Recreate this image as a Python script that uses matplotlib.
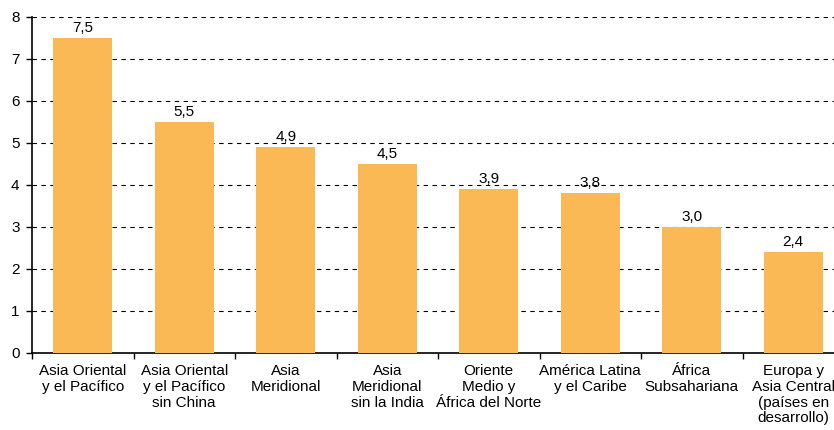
import matplotlib.pyplot as plt
import numpy as np

plt.rcParams["font.family"] = ["Liberation Sans", "DejaVu Sans"]

categories = [
    "Asia Oriental\ny el Pacífico",
    "Asia Oriental\ny el Pacífico\nsin China",
    "Asia\nMeridional",
    "Asia\nMeridional\nsin la India",
    "Oriente\nMedio y\nÁfrica del Norte",
    "América Latina\ny el Caribe",
    "África\nSubsahariana",
    "Europa y\nAsia Central\n(países en\ndesarrollo)",
]
values = [7.5, 5.5, 4.9, 4.5, 3.9, 3.8, 3.0, 2.4]
value_labels = ["7,5", "5,5", "4,9", "4,5", "3,9", "3,8", "3,0", "2,4"]
yticks = [0, 1, 2, 3, 4, 5, 6, 7, 8]

fig = plt.figure(figsize=(8.34, 4.30), dpi=100)
ax = fig.add_axes([32 / 834, 1 - 353 / 430, 812 / 834, 336 / 430])

x = np.arange(len(values))
ax.bar(x, values, width=0.58, color="#fbb955", zorder=3)
for xi, v, lab in zip(x, values, value_labels):
    ax.annotate(lab, (xi, v), xytext=(0, 2.5), textcoords="offset points",
                ha="center", va="bottom", fontsize=11, zorder=4)

ax.set_xlim(-0.5, len(values) - 0.5)
ax.set_ylim(0, 8)
ax.set_yticks(yticks)
ax.set_yticklabels([str(t) for t in yticks], fontsize=11)
for t in yticks[1:]:
    ax.axhline(t, color="black", linestyle=(0, (4, 4)), linewidth=0.8, zorder=1)

ax.set_xticks(np.arange(len(values) + 1) - 0.5)
ax.set_xticklabels([])
ax.tick_params(axis="x", direction="out", length=4, width=1)
ax.tick_params(axis="y", direction="out", length=4, width=1, pad=5)
for xi, lab in zip(x, categories):
    ax.text(xi, -0.27, lab, ha="center", va="top", fontsize=11, linespacing=1.15)

for side in ["top", "right"]:
    ax.spines[side].set_visible(False)
for side in ["left", "bottom"]:
    ax.spines[side].set_linewidth(1.2)

fig.savefig("out.png", dpi=100)
